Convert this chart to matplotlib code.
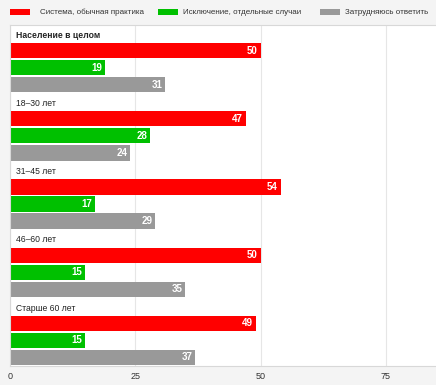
import numpy as np
import matplotlib.pyplot as plt
from matplotlib.patches import Rectangle

plt.rcParams['font.family'] = ['Liberation Sans', 'DejaVu Sans']

groups = ['Население в целом', '18–30 лет', '31–45 лет', '46–60 лет', 'Старше 60 лет']
series = ['Система, обычная практика', 'Исключение, отдельные случаи', 'Затрудняюсь ответить']
colors = ['#ff0000', '#00c000', '#999999']
system = [50, 47, 54, 50, 49]
exception = [19, 28, 17, 15, 15]
unsure = [31, 24, 29, 35, 37]
values = [system, exception, unsure]

fig = plt.figure(figsize=(4.36, 3.85), dpi=100, facecolor='#f4f4f4')
ax = fig.add_axes([10 / 436, 1 - 366 / 385, 1.0, 341 / 385])
ax.set_facecolor('white')

bar_h = 0.9
for g, name in enumerate(groups):
    base = g * 4
    ax.text(1.2, base + 0.6, name, fontsize=6.2, va='center', ha='left',
            fontweight='bold' if g == 0 else 'normal', color='#222222')
    for s in range(3):
        y = base + 1 + s + 0.5
        v = values[s][g]
        ax.barh(y, v, height=bar_h, color=colors[s], edgecolor='none', zorder=2)
        ax.text(v - 0.6, y, str(v), color='white', fontsize=7, fontweight='bold',
                ha='right', va='center', zorder=3)

ax.set_ylim(20, 0)
ax.set_xlim(0, 87)
ax.set_xticks([0, 25, 50, 75])
ax.set_yticks([])
ax.tick_params(axis='x', length=0, labelsize=6.5, colors='#333333', pad=4)
ax.grid(axis='x', color='#e6e6e6', linewidth=0.8, zorder=0)
for sp in ax.spines.values():
    sp.set_color('#d8d8d8')
    sp.set_linewidth(0.8)

# legend drawn by hand across the top
leg_x = [10, 158, 320]
text_x = [40, 183, 345]
for c, lx, tx, label in zip(colors, leg_x, text_x, series):
    fig.patches.append(Rectangle((lx / 436, 1 - 15 / 385), 20 / 436, 6 / 385,
                                 transform=fig.transFigure, facecolor=c, edgecolor='none'))
    fig.text(tx / 436, 1 - 12 / 385, label, fontsize=5.8, va='center', ha='left', color='#333333')

fig.savefig('out.png', dpi=100, facecolor=fig.get_facecolor())
